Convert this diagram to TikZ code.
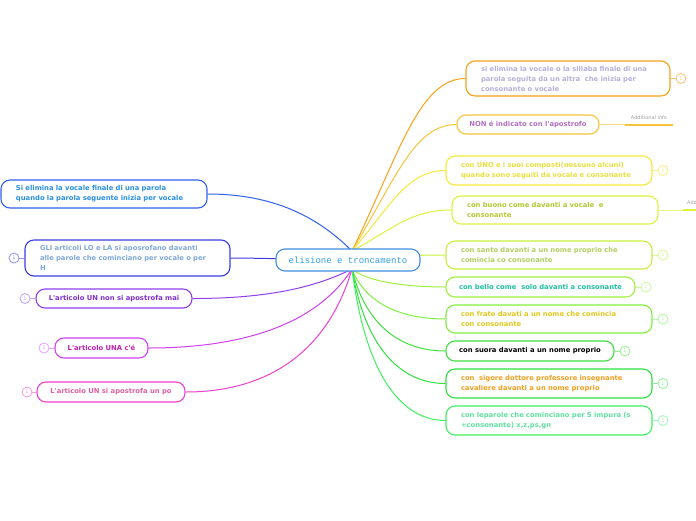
\documentclass[tikz,border=0pt]{standalone}
\usepackage{fontspec}
\newfontfamily\dvs{DejaVu Sans}
\newfontfamily\lmono{Liberation Mono}
\pgfdeclarelayer{background}
\pgfdeclarelayer{canvas}
\pgfsetlayers{canvas,background,main}
\definecolor{cA}{HTML}{F7A21B}\definecolor{tA}{HTML}{B8B0D8}\definecolor{kA}{HTML}{F8C070}
\definecolor{cB}{HTML}{F8C43A}\definecolor{tB}{HTML}{B070C0}
\definecolor{cC}{HTML}{F5EA3A}\definecolor{tC}{HTML}{E8E040}\definecolor{kC}{HTML}{F8F080}
\definecolor{cD}{HTML}{E0F040}\definecolor{tD}{HTML}{B4C832}
\definecolor{cE}{HTML}{C8F040}\definecolor{tE}{HTML}{B0D060}\definecolor{kE}{HTML}{D8F890}
\definecolor{cF}{HTML}{A0F040}\definecolor{tF}{HTML}{20C0A0}\definecolor{kF}{HTML}{C8F8A0}
\definecolor{cG}{HTML}{80F040}\definecolor{tG}{HTML}{E0C820}\definecolor{kG}{HTML}{B0F8A0}
\definecolor{cH}{HTML}{40E040}\definecolor{tH}{HTML}{000000}\definecolor{kH}{HTML}{90F090}
\definecolor{cI}{HTML}{30E040}\definecolor{tI}{HTML}{F0A020}\definecolor{kI}{HTML}{90F0A0}
\definecolor{cJ}{HTML}{40F060}\definecolor{tJ}{HTML}{60E0A0}\definecolor{kJ}{HTML}{A0F8B8}
\definecolor{cL}{HTML}{3060F0}\definecolor{tL}{HTML}{2A90E0}
\definecolor{cM}{HTML}{3C3CE0}\definecolor{tM}{HTML}{80A8D8}\definecolor{kM}{HTML}{9090F0}
\definecolor{cN}{HTML}{9040F0}\definecolor{tN}{HTML}{8030D0}\definecolor{kN}{HTML}{C0A0F8}
\definecolor{cO}{HTML}{D040F0}\definecolor{tO}{HTML}{C020B0}\definecolor{kO}{HTML}{E8A0F8}
\definecolor{cP}{HTML}{F040D0}\definecolor{tP}{HTML}{E060A0}\definecolor{kP}{HTML}{F8A0E0}
\definecolor{cCen}{HTML}{4090E0}\definecolor{tCen}{HTML}{30A0E0}
\definecolor{infogray}{HTML}{A0A0A0}
\tikzset{
  box/.style={draw, fill=white, rounded corners=9pt, line width=1.1pt, inner xsep=15pt, inner ysep=0pt,
    align=left, font=\dvs\bfseries\fontsize{6.8}{10}\selectfont, anchor=center},
  sbox/.style={box, align=center, inner xsep=0pt},
  num/.style={circle, draw, fill=white, inner sep=0pt, minimum size=10pt, line width=0.8pt,
    font=\dvs\fontsize{5}{5}\selectfont},
  link/.style={line width=1pt},
  stub/.style={line width=0.8pt},
}
\begin{document}
\begin{tikzpicture}[x=1pt,y=-1pt]
\clip (0,0) rectangle (696,520);
\begin{pgfonlayer}{canvas}
\fill[white] (0,0) rectangle (696,520);
\end{pgfonlayer}
\coordinate (hub) at (352,260);
\coordinate (hubt) at (352,251);
\coordinate (hubb) at (352,269);
% center
\node[draw=cCen, fill=white, rounded corners=9pt, line width=1.1pt, minimum width=144pt, minimum height=22pt,
  inner sep=0pt, text=tCen, font=\lmono\fontsize{9}{9}\selectfont] (cen) at (348,260) {elisione e troncamento};
% right nodes
\node[box, draw=cA, text=tA, text width=174pt, minimum height=35pt] (r1) at (568,78.5)
  {si elimina la vocale o la sillaba finale di una\\parola seguita da un altra\ \ che inizia per\\consonante o vocale};
\node[sbox, draw=cB, text=tB, minimum width=142pt, minimum height=19pt] (r2) at (528,124.5)
  {NON é indicato con l'apostrofo};
\node[box, draw=cC, text=tC, text width=176pt, minimum height=29pt] (r3) at (549,170.5)
  {con UNO e i suoi composti(nessuno alcuni)\\quando sono seguiti da vocale e consonante};
\node[box, draw=cD, text=tD, text width=176pt, minimum height=28pt] (r4) at (555,210)
  {con buono come davanti a vocale\ \ e\\consonante};
\node[box, draw=cE, text=tE, text width=176pt, minimum height=28pt] (r5) at (549,255)
  {con santo davanti a un nome proprio che\\comincia co consonante};
\node[sbox, draw=cF, text=tF, minimum width=189pt, minimum height=20pt] (r6) at (540.5,287)
  {con bello come\ \ solo davanti a consonante};
\node[box, draw=cG, text=tG, text width=176pt, minimum height=28pt] (r7) at (549,319)
  {con frate davati a un nome che comincia\\con consonante};
\node[sbox, draw=cH, text=tH, minimum width=168pt, minimum height=20pt] (r8) at (530,351)
  {con suora davanti a un nome proprio};
\node[box, draw=cI, text=tI, text width=176pt, minimum height=29pt] (r9) at (549,383.5)
  {con\ \ sigore dottore professore insegnante\\cavaliere davanti a un nome proprio};
\node[box, draw=cJ, text=tJ, text width=176pt, minimum height=29pt] (r10) at (549,420.5)
  {con leparole che cominciano per S impura (s\\+consonante) x,z,ps,gn};
% left nodes
\node[box, draw=cL, text=tL, text width=176pt, minimum height=28pt] (lA) at (104,194)
  {Si elimina la vocale finale di una parola\\quando la parola seguente inizia per vocale};
\node[box, draw=cM, text=tM, text width=175pt, minimum height=36pt] (lB) at (127.5,258)
  {GLI articoli LO e LA si aposrofano davanti\\alle parole che cominciano per vocale o per\\H};
\node[sbox, draw=cN, text=tN, minimum width=156pt, minimum height=19pt] (lC) at (114,298.5)
  {L'articolo UN non si apostrofa mai};
\node[sbox, draw=cO, text=tO, minimum width=93pt, minimum height=20pt] (lD) at (101.5,348)
  {L'articolo UNA c'é};
\node[sbox, draw=cP, text=tP, minimum width=148pt, minimum height=20pt] (lE) at (111,392)
  {L'articolo UN si apostrofa un po};
% number circles
\node[num, draw=kA, text=kA] (n1) at (681,78.5) {1};
\node[num, draw=kC, text=kC] (n3) at (663,170.5) {1};
\node[num, draw=kE, text=kE] (n5) at (663,255) {1};
\node[num, draw=kF, text=kF] (n6) at (646,287) {1};
\node[num, draw=kG, text=kG] (n7) at (663,319) {1};
\node[num, draw=kH, text=kH] (n8) at (625,351) {1};
\node[num, draw=kI, text=kI] (n9) at (663,383.5) {1};
\node[num, draw=kJ, text=kJ] (n10) at (663,420.5) {1};
\node[num, draw=kM, text=kM] (nB) at (14,258) {1};
\node[num, draw=kN, text=kN] (nC) at (25,298.5) {1};
\node[num, draw=kO, text=kO] (nD) at (44,348) {1};
\node[num, draw=kP, text=kP] (nE) at (27,392) {1};
% additional info
\coordinate (i2a) at (625,124.5);
\coordinate (i2b) at (673,124.5);
\node[font=\dvs\fontsize{5}{5}\selectfont, text=infogray, inner sep=0pt] (lab2) at (649,118) {Additional info};
\coordinate (i4a) at (683,210);
\coordinate (i4b) at (740,210);
\node[font=\dvs\fontsize{5}{5}\selectfont, text=infogray, inner sep=0pt, anchor=west] (lab4) at (687,203) {Additional info};
\begin{pgfonlayer}{background}
\draw[link, cA] (hubt) .. controls +(48,-99) and +(-46,0) .. (r1.west);
\draw[link, cB] (hubt) .. controls +(44,-73) and +(-42,0) .. (r2.west);
\draw[link, cC] (hubt) .. controls +(39,-46) and +(-38,0) .. (r3.west);
\draw[link, cD] (hubt) .. controls +(42,-23) and +(-40,0) .. (r4.west);
\draw[link, cE] (hub) .. controls +(30,-3) and +(-40,0) .. (r5.west);
\draw[link, cF] (hubb) .. controls +(14,12) and +(-42,0) .. (r6.west);
\draw[link, cG] (hubb) .. controls +(14,36) and +(-42,0) .. (r7.west);
\draw[link, cH] (hubb) .. controls +(14,59) and +(-42,0) .. (r8.west);
\draw[link, cI] (hubb) .. controls +(14,83) and +(-42,0) .. (r9.west);
\draw[link, cJ] (hubb) .. controls +(14,110) and +(-42,0) .. (r10.west);
\draw[link, cL] (hubt) .. controls +(-35,-35) and +(65,0) .. (lA.east);
\draw[link, cM] (hub) .. controls +(-30,0) and +(30,0) .. (lB.east);
\draw[link, cN] (hubb) .. controls +(-40,20) and +(70,0) .. (lC.east);
\draw[link, cO] (hubb) .. controls +(-35,55) and +(95,0) .. (lD.east);
\draw[link, cP] (hubb) .. controls +(-25,85) and +(80,0) .. (lE.east);
\draw[stub, kA] (r1.east) -- (n1);
\draw[stub, kC] (r3.east) -- (n3);
\draw[stub, kE] (r5.east) -- (n5);
\draw[stub, kF] (r6.east) -- (n6);
\draw[stub, kG] (r7.east) -- (n7);
\draw[stub, kH] (r8.east) -- (n8);
\draw[stub, kI] (r9.east) -- (n9);
\draw[stub, kJ] (r10.east) -- (n10);
\draw[stub, kM] (lB.west) -- (nB);
\draw[stub, kN] (lC.west) -- (nC);
\draw[stub, kO] (lD.west) -- (nD);
\draw[stub, kP] (lE.west) -- (nE);
\draw[stub, cB!60] (r2.east) -- (i2b);
\draw[line width=2pt, cB] (i2a) -- (i2b);
\draw[stub, cD!70] (r4.east) -- (i4b);
\draw[line width=2pt, cD] (i4a) -- (i4b);
\end{pgfonlayer}
\end{tikzpicture}
\end{document}
